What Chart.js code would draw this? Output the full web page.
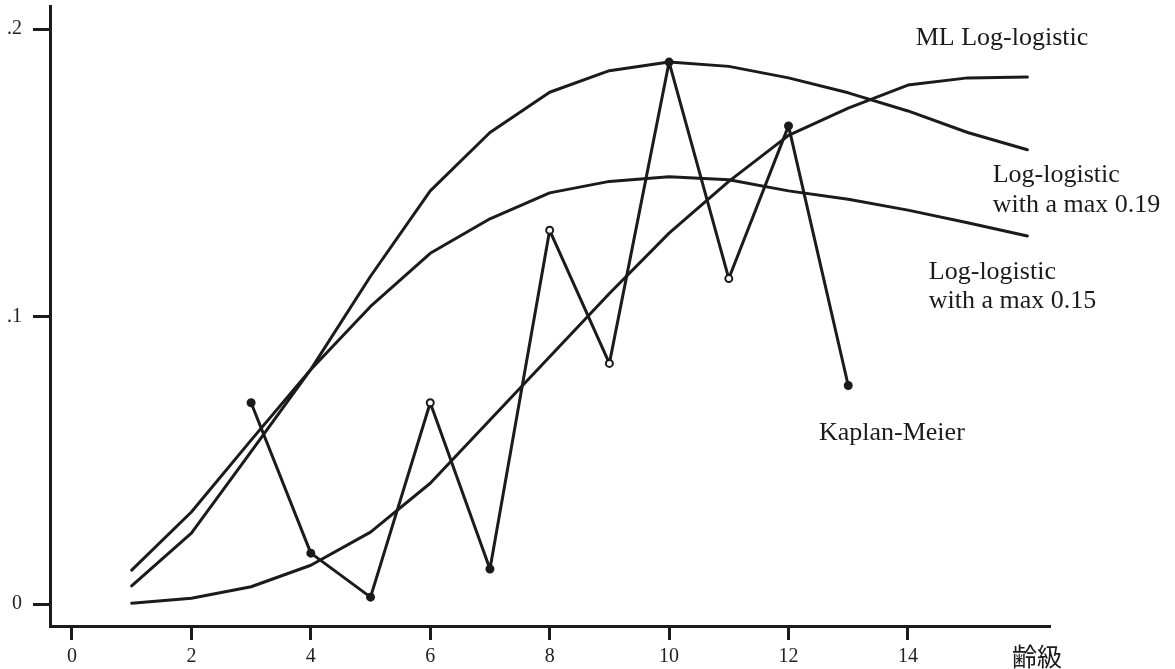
<!DOCTYPE html>
<html>
<head>
<meta charset="utf-8">
<title>Log-logistic fits</title>
<script src="https://cdn.jsdelivr.net/npm/chart.js@4/dist/chart.umd.min.js"></script>
<style>
  html, body { margin: 0; padding: 0; background: #fff; }
  #wrap { width: 1175px; height: 669px; position: relative; }
</style>
</head>
<body>
<div id="wrap"><canvas id="fitChart"></canvas></div>
<script>
// Age classes (x) for the fitted curves
const ageClasses = [1, 2, 3, 4, 5, 6, 7, 8, 9, 10, 11, 12, 13, 14, 15, 16];

// Fitted curves
const mlLogLogistic = [0.0003, 0.002, 0.006, 0.0135, 0.025, 0.042, 0.064, 0.086,
                       0.108, 0.129, 0.147, 0.163, 0.1725, 0.1805, 0.183, 0.1833];
const logLogisticMax19 = [0.0063, 0.0247, 0.053, 0.0816, 0.114, 0.1437, 0.164, 0.178,
                          0.1855, 0.1885, 0.187, 0.183, 0.1778, 0.1715, 0.164, 0.158];
const logLogisticMax15 = [0.0118, 0.032, 0.057, 0.0816, 0.1035, 0.122, 0.134, 0.143,
                          0.147, 0.1486, 0.1476, 0.1437, 0.1408, 0.137, 0.1326, 0.128];

// Kaplan-Meier estimates
const kmAges = [3, 4, 5, 6, 7, 8, 9, 10, 11, 12, 13];
const kaplanMeier = [0.070, 0.0177, 0.0024, 0.070, 0.0122, 0.130, 0.0837, 0.1885, 0.1132, 0.1663, 0.076];
const kmHollow = [false, false, false, true, false, true, true, false, true, false, false];

// Axis ticks
const xTickValues = [0, 2, 4, 6, 8, 10, 12, 14];
const yTickValues = [0, 0.1, 0.2];
const yTickLabels = ['0', '.1', '.2'];
const xAxisTitle = '齢級';

const ink = '#1b1b1b';
const serif = '"Liberation Serif", "DejaVu Serif", serif';

// Curve labels, anchored in data units (x, baseline y)
const curveLabels = [
  { text: 'ML Log-logistic', x: 14.13, y: 0.1944 },
  { text: 'Log-logistic', x: 15.42, y: 0.1469 },
  { text: 'with a max 0.19', x: 15.42, y: 0.1365 },
  { text: 'Log-logistic', x: 14.35, y: 0.1132 },
  { text: 'with a max 0.15', x: 14.35, y: 0.1031 },
  { text: 'Kaplan-Meier', x: 12.51, y: 0.0569 }
];

function toPoints(xs, ys) {
  return xs.map((x, i) => ({ x: x, y: ys[i] }));
}

function curveDataset(label, values) {
  return {
    label: label,
    data: toPoints(ageClasses, values),
    borderColor: ink,
    borderWidth: 3,
    pointRadius: 0,
    tension: 0,
    borderJoinStyle: 'round',
    borderCapStyle: 'round',
    fill: false
  };
}

// Draws the curve labels and the x axis title
const labelPlugin = {
  id: 'curveLabels',
  afterDraw(chart) {
    const ctx = chart.ctx;
    const xs = chart.scales.x;
    const ys = chart.scales.y;
    ctx.save();
    ctx.fillStyle = ink;
    ctx.font = '26px ' + serif;
    ctx.textAlign = 'left';
    ctx.textBaseline = 'alphabetic';
    curveLabels.forEach(l => {
      ctx.fillText(l.text, xs.getPixelForValue(l.x), ys.getPixelForValue(l.y));
    });
    ctx.font = '25px "Noto Sans CJK JP", sans-serif';
    ctx.textBaseline = 'middle';
    ctx.fillText(xAxisTitle, chart.chartArea.right - 38, chart.chartArea.bottom + 30);
    ctx.restore();
  }
};

const ctx = document.getElementById('fitChart');
new Chart(ctx, {
  type: 'line',
  data: {
    datasets: [
      curveDataset('ML Log-logistic', mlLogLogistic),
      curveDataset('Log-logistic with a max 0.19', logLogisticMax19),
      curveDataset('Log-logistic with a max 0.15', logLogisticMax15),
      {
        label: 'Kaplan-Meier',
        data: toPoints(kmAges, kaplanMeier),
        borderColor: ink,
        borderWidth: 3,
        tension: 0,
        borderJoinStyle: 'round',
        pointRadius: 3.5,
        pointBorderWidth: 2,
        pointBorderColor: ink,
        pointBackgroundColor: kmHollow.map(h => h ? '#ffffff' : ink),
        fill: false
      }
    ]
  },
  options: {
    responsive: true,
    maintainAspectRatio: false,
    animation: false,
    layout: { padding: { top: 5, right: 125, left: 0, bottom: 0 } },
    plugins: {
      legend: { display: false },
      tooltip: { enabled: false },
      title: { display: false }
    },
    scales: {
      x: {
        type: 'linear',
        min: -0.368,
        max: 16.379,
        afterFit: s => { s.height = 43; s.paddingLeft = 0; s.paddingRight = 0; },
        afterBuildTicks: s => { s.ticks = xTickValues.map(v => ({ value: v })); },
        border: { display: true, color: ink, width: 3 },
        grid: {
          drawOnChartArea: false,
          drawTicks: true,
          tickLength: 14,
          tickWidth: 3,
          tickColor: ink
        },
        ticks: {
          padding: 5,
          maxRotation: 0,
          autoSkip: false,
          color: '#222',
          font: { family: serif, size: 20 },
          callback: v => String(v)
        }
      },
      y: {
        type: 'linear',
        min: -0.00764,
        max: 0.208,
        afterFit: s => { s.width = 50; s.paddingTop = 0; s.paddingBottom = 0; },
        afterBuildTicks: s => { s.ticks = yTickValues.map(v => ({ value: v })); },
        border: { display: true, color: ink, width: 3 },
        grid: {
          drawOnChartArea: false,
          drawTicks: true,
          tickLength: 17,
          tickWidth: 3,
          tickColor: ink
        },
        ticks: {
          padding: 11,
          autoSkip: false,
          color: '#222',
          font: { family: serif, size: 20 },
          callback: v => {
            const i = yTickValues.indexOf(v);
            return i >= 0 ? yTickLabels[i] : '';
          }
        }
      }
    }
  },
  plugins: [labelPlugin]
});
</script>
</body>
</html>
